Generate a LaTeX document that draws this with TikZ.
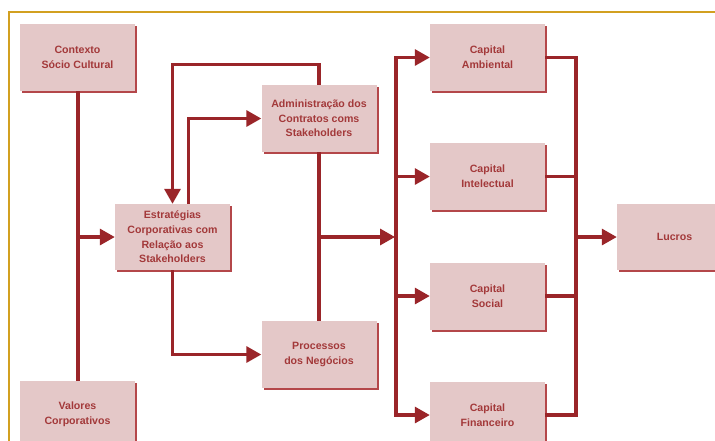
\documentclass[tikz,border=0pt]{standalone}
\usepackage{fontspec}
\setmainfont{Liberation Sans}
\usetikzlibrary{arrows.meta,shadows}
\definecolor{boxfill}{HTML}{E4C8C8}
\definecolor{boxshade}{HTML}{B4474A}
\definecolor{boxtext}{HTML}{A3393A}
\definecolor{linkred}{HTML}{9A2529}
\definecolor{framegold}{HTML}{D2A020}
\tikzset{
  block/.style={fill=boxfill, draw=none, minimum width=115pt, minimum height=67pt,
    inner sep=2pt, align=center, text=boxtext,
    font=\fontsize{10.6}{14.6}\selectfont\bfseries,
    general shadow={fill=boxshade, shadow xshift=2pt, shadow yshift=-2pt}},
  link/.style={draw=linkred, line width=3.2pt},
  heavy/.style={draw=linkred, line width=4pt},
  tip/.style={-{Triangle[length=15pt,width=16pt]}}
}
\begin{document}
\begin{tikzpicture}[x=1pt,y=-1pt]
\useasboundingbox (0,0) rectangle (715,440);
\clip (0,0) rectangle (715,440);
\fill[white] (0,0) rectangle (715,440);
% outer frame
\draw[framegold, line width=2pt] (9,12) rectangle (800,520);

% blocks
\node[block] (ctx)  at (77.5,57.5)  {Contexto\\Sócio Cultural};
\node[block] (val)  at (77.5,414.5) {Valores\\Corporativos};
\node[block, minimum height=66pt] (est) at (172.5,237) {Estratégias\\Corporativas com\\Relação aos\\Stakeholders};
\node[block] (adm)  at (319,118.5)  {Administração dos\\Contratos coms\\Stakeholders};
\node[block] (proc) at (319,354.5)  {Processos\\dos Negócios};
\node[block] (capA) at (487.5,57.5) {Capital\\Ambiental};
\node[block] (capI) at (487.5,176.5) {Capital\\Intelectual};
\node[block] (capS) at (487.5,296)  {Capital\\Social};
\node[block] (capF) at (487.5,415)  {Capital\\Financeiro};
\node[block, minimum height=66pt] (luc) at (674.5,237) {Lucros};

% bus positions
\coordinate (busL) at (396,0);
\coordinate (busR) at (576,0);

% left column into strategies
\draw[heavy] (ctx.south) -- (val.north);
\draw[link,tip] (ctx.south |- est.west) -- (est.west);

% feedback loops between strategies and contract management
\draw[link,tip] (adm.north) -- ++(0,-20) -| (est.north);
\draw[link,tip] ([xshift=16pt]est.north) |- (adm.west);
\draw[link,tip] (est.south) |- (proc.west);
\draw[link] (adm.south) -- (proc.north);
\draw[link,tip] (adm.south |- est.east) -- ([xshift=-1pt]busL |- est.east);

% distribution bus to the capitals
\draw[link] (busL |- capA.west) -- (busL |- capF.west);
\draw[link,tip] ([xshift=-1.6pt]busL |- capA.west) -- (capA.west);
\draw[link,tip] (busL |- capI.west) -- (capI.west);
\draw[link,tip] (busL |- capS.west) -- (capS.west);
\draw[link,tip] ([xshift=-1.6pt]busL |- capF.west) -- (capF.west);

% collecting bus to profits
\draw[link] (capA.east) -- ([xshift=1.6pt]busR |- capA.east);
\draw[link] (capI.east) -- (busR |- capI.east);
\draw[link] (capS.east) -- (busR |- capS.east);
\draw[link] (capF.east) -- ([xshift=1.6pt]busR |- capF.east);
\draw[link] (busR |- capA.east) -- (busR |- capF.east);
\draw[link,tip] (busR |- luc.west) -- (luc.west);
\end{tikzpicture}
\end{document}
